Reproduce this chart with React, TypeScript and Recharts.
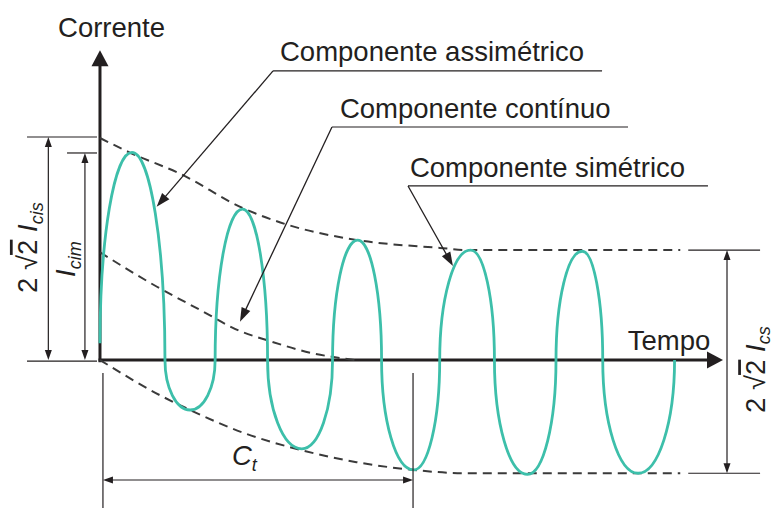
import React from 'react';
import { LineChart, Line, XAxis, YAxis, ReferenceLine, ReferenceDot } from 'recharts';

// tempo em ciclos, corrente em p.u. da amplitude simétrica
// (picos/vales e passagens por zero)
const waveT = [0, 0.28, 0.57, 0.79, 1.01, 1.25, 1.47, 1.77, 2.04, 2.26, 2.47, 2.75, 2.98, 3.25, 3.46, 3.75, 4.0, 4.23, 4.41, 4.72, 5.04];
const waveI = [0.15, 1.87, 0, -0.45, 0, 1.36, 0, -0.8, 0, 1.08, 0, -0.99, 0, 0.99, 0, -1.03, 0, 0.98, 0, -1.02, 0];

// envoltória superior (componente assimétrico)
const upperT = [0, 0.28, 0.7, 1.25, 1.64, 2.26, 2.98, 3.24, 4.23, 5.09];
const upperI = [2.0, 1.86, 1.68, 1.37, 1.22, 1.08, 1.01, 0.99, 0.99, 0.99];

// envoltória inferior
const lowerT = [0, 0.55, 0.79, 1.27, 1.76, 2.25, 2.75, 3.2, 5.09];
const lowerI = [0, -0.33, -0.45, -0.66, -0.81, -0.92, -0.99, -1.02, -1.02];

// componente contínuo
const dcT = [0, 0.5, 0.88, 1.23, 1.46, 1.87, 2.24];
const dcI = [0.97, 0.66, 0.45, 0.26, 0.18, 0.06, 0];

const zip = (ts: number[], vs: number[]) => ts.map((t, i) => ({ t, v: vs[i] }));

const wave = zip(waveT, waveI);
const upper = zip(upperT, upperI);
const lower = zip(lowerT, lowerI);
const dc = zip(dcT, dcI);

const FONT = '"Liberation Sans", Arial, sans-serif';
const INK = '#231f20';
const TEAL = '#3dbfaa';
const DASH = '#3a3a3a';

// curva em quartos de elipse: tangente vertical nos zeros, horizontal nos picos
const K = 0.5523;
function lobeCurve(context: any) {
  let pts: [number, number][] = [];
  const isExt = (i: number) =>
    i > 0 && i < pts.length - 1 && (pts[i][1] - pts[i - 1][1]) * (pts[i + 1][1] - pts[i][1]) < 0;
  return {
    areaStart() {},
    areaEnd() {},
    lineStart() {
      pts = [];
    },
    point(x: number, y: number) {
      pts.push([+x, +y]);
    },
    lineEnd() {
      if (!pts.length) return;
      context.moveTo(pts[0][0], pts[0][1]);
      for (let i = 1; i < pts.length; i++) {
        const [x0, y0] = pts[i - 1];
        const [x1, y1] = pts[i];
        if (isExt(i)) {
          context.bezierCurveTo(x0, y0 + K * (y1 - y0), x1 - K * (x1 - x0), y1, x1, y1);
        } else if (isExt(i - 1)) {
          context.bezierCurveTo(x0 + K * (x1 - x0), y0, x1, y1 - K * (y1 - y0), x1, y1);
        } else {
          context.lineTo(x1, y1);
        }
      }
    },
  };
}

type ArrowOpts = { w: number; head: number; half: number; start?: boolean; end?: boolean };

const arrow = ({ w, head, half, start, end }: ArrowOpts) => (p: any) => {
  const { x1, y1, x2, y2 } = p;
  const len = Math.hypot(x2 - x1, y2 - y1) || 1;
  const ux = (x2 - x1) / len;
  const uy = (y2 - y1) / len;
  const tri = (tx: number, ty: number, dx: number, dy: number) => {
    const bx = tx - dx * head;
    const by = ty - dy * head;
    return `${tx},${ty} ${bx - dy * half},${by + dx * half} ${bx + dy * half},${by - dx * half}`;
  };
  const cut = head * 0.6;
  const sx = start ? x1 + ux * cut : x1;
  const sy = start ? y1 + uy * cut : y1;
  const ex = end ? x2 - ux * cut : x2;
  const ey = end ? y2 - uy * cut : y2;
  return (
    <g>
      <line x1={sx} y1={sy} x2={ex} y2={ey} stroke={INK} strokeWidth={w} />
      {end && <polygon points={tri(x2, y2, ux, uy)} fill={INK} />}
      {start && <polygon points={tri(x1, y1, -ux, -uy)} fill={INK} />}
    </g>
  );
};

const axisArrow = arrow({ w: 3, head: 16, half: 8.5, end: true });
const leader = arrow({ w: 1.3, head: 14, half: 4.8, end: true });
const dim = arrow({ w: 1.2, head: 10, half: 3.5, start: true, end: true });
const thin = arrow({ w: 1.2, head: 0, half: 0 });

const FS = 27.5;

const label = (content: React.ReactNode) => (p: any) => (
  <text x={p.cx} y={p.cy} fontFamily={FONT} fontSize={FS} fill={INK}>
    {content}
  </text>
);

const vlabel = (content: React.ReactNode) => (p: any) => (
  <text
    x={p.cx}
    y={p.cy}
    transform={`rotate(-90 ${p.cx} ${p.cy})`}
    fontFamily={FONT}
    fontSize={FS}
    fill={INK}
  >
    {content}
  </text>
);

const sqrt2 = (
  <>
    2 √<tspan style={{ textDecoration: 'overline' }}>2</tspan>{' '}
  </>
);

const dashed = { type: 'monotone' as const, stroke: DASH, strokeWidth: 2, strokeDasharray: '9 6', dot: false, activeDot: false, isAnimationActive: false };

export default function App() {
  return (
    <div style={{ position: 'absolute', left: 0, top: 0, background: '#fff' }}>
      <LineChart width={775} height={508} margin={{ top: 0, right: 0, bottom: 0, left: 0 }}>
        <XAxis type="number" dataKey="t" domain={[-0.877, 5.921]} hide allowDataOverflow />
        <YAxis type="number" dataKey="v" domain={[-1.333, 3.243]} hide allowDataOverflow />

        {/* eixos */}
        <ReferenceLine segment={[{ x: 0, y: -0.02 }, { x: 0, y: 2.79 }]} ifOverflow="visible" shape={axisArrow} />
        <ReferenceLine segment={[{ x: -0.013, y: 0 }, { x: 5.465, y: 0 }]} ifOverflow="visible" shape={axisArrow} />

        <Line data={upper} dataKey="v" {...dashed} />
        <Line data={lower} dataKey="v" {...dashed} />
        <Line data={dc} dataKey="v" {...dashed} />
        <Line data={wave} dataKey="v" type={lobeCurve as any} stroke={TEAL} strokeWidth={2.8} dot={false} activeDot={false} isAnimationActive={false} />

        {/* cotas à esquerda */}
        <ReferenceLine segment={[{ x: -0.64, y: 2.009 }, { x: -0.026, y: 2.009 }]} ifOverflow="visible" shape={thin} />
        <ReferenceLine segment={[{ x: -0.289, y: 1.865 }, { x: -0.026, y: 1.865 }]} ifOverflow="visible" shape={thin} />
        <ReferenceLine segment={[{ x: -0.64, y: -0.01 }, { x: -0.026, y: -0.01 }]} ifOverflow="visible" shape={thin} />
        <ReferenceLine segment={[{ x: -0.453, y: 2.009 }, { x: -0.453, y: 0 }]} ifOverflow="visible" shape={dim} />
        <ReferenceLine segment={[{ x: -0.132, y: 1.865 }, { x: -0.132, y: 0 }]} ifOverflow="visible" shape={dim} />

        {/* cotas à direita */}
        <ReferenceLine segment={[{ x: 5.16, y: 0.99 }, { x: 5.79, y: 0.99 }]} ifOverflow="visible" shape={thin} />
        <ReferenceLine segment={[{ x: 5.16, y: -1.02 }, { x: 5.79, y: -1.02 }]} ifOverflow="visible" shape={thin} />
        <ReferenceLine segment={[{ x: 5.5, y: 0.99 }, { x: 5.5, y: -1.02 }]} ifOverflow="visible" shape={dim} />

        {/* Ct */}
        <ReferenceLine segment={[{ x: 0.026, y: -0.117 }, { x: 0.026, y: -1.333 }]} ifOverflow="visible" shape={thin} />
        <ReferenceLine segment={[{ x: 2.746, y: -0.117 }, { x: 2.746, y: -1.333 }]} ifOverflow="visible" shape={thin} />
        <ReferenceLine segment={[{ x: 0.026, y: -1.081 }, { x: 2.746, y: -1.081 }]} ifOverflow="visible" shape={dim} />

        {/* chamadas */}
        <ReferenceLine segment={[{ x: 1.518, y: 2.604 }, { x: 4.404, y: 2.604 }]} ifOverflow="visible" shape={thin} />
        <ReferenceLine segment={[{ x: 1.518, y: 2.604 }, { x: 0.497, y: 1.381 }]} ifOverflow="visible" shape={leader} />
        <ReferenceLine segment={[{ x: 2.035, y: 2.099 }, { x: 4.632, y: 2.099 }]} ifOverflow="visible" shape={thin} />
        <ReferenceLine segment={[{ x: 2.035, y: 2.099 }, { x: 1.228, y: 0.345 }]} ifOverflow="visible" shape={leader} />
        <ReferenceLine segment={[{ x: 2.702, y: 1.568 }, { x: 5.333, y: 1.568 }]} ifOverflow="visible" shape={thin} />
        <ReferenceLine segment={[{ x: 2.702, y: 1.568 }, { x: 3.096, y: 0.847 }]} ifOverflow="visible" shape={leader} />

        {/* textos */}
        <ReferenceDot x={-0.368} y={2.91} r={0} ifOverflow="visible" shape={label('Corrente')} />
        <ReferenceDot x={4.63} y={0.09} r={0} ifOverflow="visible" shape={label('Tempo')} />
        <ReferenceDot x={1.579} y={2.694} r={0} ifOverflow="visible" shape={label('Componente assimétrico')} />
        <ReferenceDot x={2.105} y={2.177} r={0} ifOverflow="visible" shape={label('Componente contínuo')} />
        <ReferenceDot x={2.719} y={1.649} r={0} ifOverflow="visible" shape={label('Componente simétrico')} />
        <ReferenceDot
          x={1.158}
          y={-0.946}
          r={0}
          ifOverflow="visible"
          shape={label(
            <>
              <tspan fontStyle="italic">C</tspan>
              <tspan fontStyle="italic" fontSize={18} dy={6}>t</tspan>
            </>
          )}
        />
        <ReferenceDot
          x={-0.553}
          y={0.604}
          r={0}
          ifOverflow="visible"
          shape={vlabel(
            <>
              {sqrt2}
              <tspan fontStyle="italic">I</tspan>
              <tspan fontStyle="italic" fontSize={18} dy={6}>cis</tspan>
            </>
          )}
        />
        <ReferenceDot
          x={-0.219}
          y={0.748}
          r={0}
          ifOverflow="visible"
          shape={vlabel(
            <>
              <tspan fontStyle="italic">I</tspan>
              <tspan fontStyle="italic" fontSize={18} dy={6}>cim</tspan>
            </>
          )}
        />
        <ReferenceDot
          x={5.835}
          y={-0.477}
          r={0}
          ifOverflow="visible"
          shape={vlabel(
            <>
              {sqrt2}
              <tspan fontStyle="italic">I</tspan>
              <tspan fontStyle="italic" fontSize={18} dy={5}>cs</tspan>
            </>
          )}
        />
      </LineChart>
    </div>
  );
}
